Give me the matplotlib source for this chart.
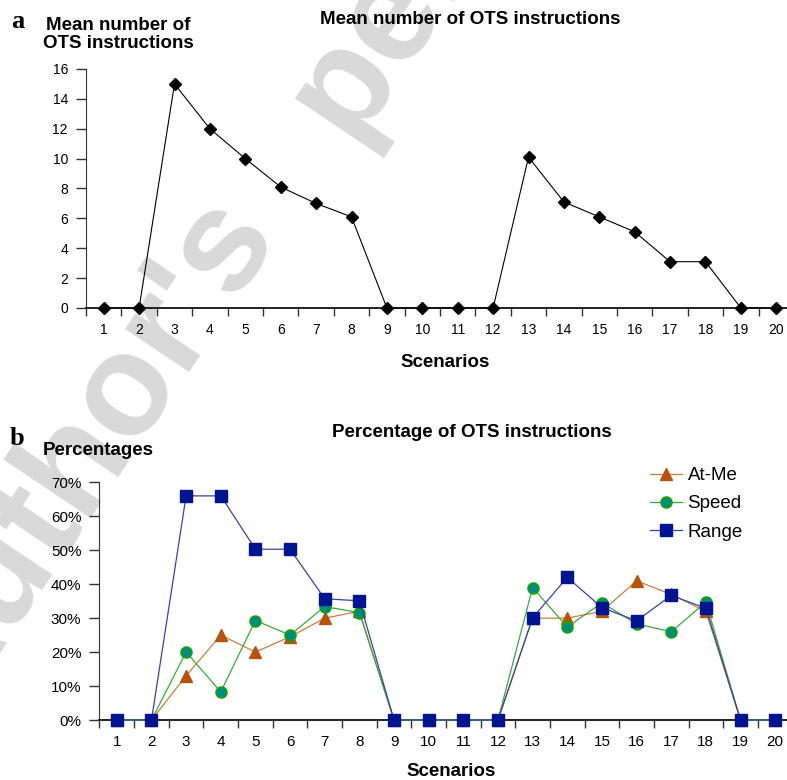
import matplotlib
matplotlib.use("Agg")
import matplotlib.pyplot as plt
from matplotlib.ticker import FixedLocator, NullFormatter

plt.rcParams["font.family"] = ["Liberation Sans", "DejaVu Sans"]

scenarios = list(range(1, 21))
ots_mean = [0, 0, 15, 12, 10, 8.1, 7, 6.1, 0, 0, 0, 0, 10.1, 7.1, 6.1, 5.1, 3.1, 3.1, 0, 0]

at_me = [0, 0, 13, 25, 20, 24.5, 30, 32, 0, 0, 0, 0, 30, 30, 32, 41, 37, 32, 0, 0]
speed = [0, 0, 20, 8.3, 29.3, 25, 33.4, 31.6, 0, 0, 0, 0, 39, 27.4, 34.5, 28.3, 26, 34.7, 0, 0]
range_pct = [0, 0, 66, 66, 50.3, 50.3, 35.7, 35.1, 0, 0, 0, 0, 30.1, 42, 33.1, 29.2, 36.7, 32.9, 0, 0]

W, H = 787, 780
fig = plt.figure(figsize=(W / 100, H / 100), dpi=100)


def fx(px):
    return px / W


def fy(py):
    return 1 - py / H


# watermark behind everything
wm = dict(fontsize=104, fontweight="bold", color="#d9d9d9", rotation=56,
          rotation_mode="anchor", ha="left", va="baseline", zorder=-1)
fig.text(fx(-50), fy(722), "Author's", **wm)
fig.text(fx(354), fy(149), "personal copy", **wm)


def style_axes(ax, tick_size, pad):
    ax.patch.set_alpha(0)
    for s in ("top", "right"):
        ax.spines[s].set_visible(False)
    ax.spines["left"].set_color("#333333")
    ax.spines["bottom"].set_color("#111111")
    ax.spines["bottom"].set_linewidth(1.3)
    ax.set_xlim(0.5, 20.5)
    ax.set_xticks(scenarios)
    ax.set_xticklabels([str(s) for s in scenarios])
    ax.xaxis.set_minor_locator(FixedLocator([s + 0.5 for s in range(0, 21)]))
    ax.xaxis.set_minor_formatter(NullFormatter())
    ax.tick_params(axis="x", which="major", length=0, labelsize=tick_size, pad=pad)
    ax.tick_params(axis="x", which="minor", length=6, width=1, color="#333333")
    ax.tick_params(axis="y", length=7, width=1, color="#333333", labelsize=tick_size, pad=6)


# --- a: mean number of OTS instructions
ax1 = fig.add_axes([fx(86), fy(308), fx(794) - fx(86), (308 - 69) / H])
style_axes(ax1, 10, 11)
ax1.plot(scenarios, ots_mean, color="black", lw=0.8, marker="D", ms=6.5,
         mfc="black", mec="black", clip_on=False, zorder=3)
ax1.set_ylim(0, 16)
ax1.set_yticks(range(0, 17, 2))

fig.text(fx(18), fy(28), "a", family="Liberation Serif", fontweight="bold",
         fontsize=19, ha="center", va="baseline")
fig.text(fx(118), fy(48), "Mean number of\nOTS instructions", fontweight="bold",
         fontsize=13.5, ha="center", va="baseline", linespacing=1.05)
fig.text(fx(470), fy(24), "Mean number of OTS instructions", fontweight="bold",
         fontsize=13.5, ha="center", va="baseline")
fig.text(fx(445), fy(367), "Scenarios", fontweight="bold", fontsize=13.5,
         ha="center", va="baseline")

# --- b: percentage of OTS instructions
ax2 = fig.add_axes([fx(99.5), fy(720), fx(792.5) - fx(99.5), (720 - 482.3) / H])
style_axes(ax2, 11, 11)
ax2.plot(scenarios, at_me, color="#d07a3c", lw=0.9, marker="^", ms=9,
         mfc="#b5520c", mec="#b5520c", clip_on=False, zorder=3, label="At-Me")
ax2.plot(scenarios, speed, color="#3aaa3a", lw=0.9, marker="o", ms=7.5,
         mfc="#008a8a", mec="#11a011", mew=1.5, clip_on=False, zorder=4, label="Speed")
ax2.plot(scenarios, range_pct, color="#3545a5", lw=0.9, marker="s", ms=8,
         mfc="#00148f", mec="#00148f", clip_on=False, zorder=5, label="Range")
ax2.set_ylim(0, 70)
ax2.set_yticks(range(0, 71, 10))
ax2.set_yticklabels([f"{v}%" for v in range(0, 71, 10)])

fig.legend(handles=ax2.get_lines(), loc="upper left",
           bbox_to_anchor=(fx(650), fy(467)), bbox_transform=fig.transFigure,
           frameon=False, borderpad=0, borderaxespad=0, fontsize=13.5,
           handlelength=1.7, handletextpad=0.3, labelspacing=0.6)

fig.text(fx(16.5), fy(445), "b", family="Liberation Serif", fontweight="bold",
         fontsize=19, ha="center", va="baseline")
fig.text(fx(98), fy(455), "Percentages", fontweight="bold", fontsize=13.5,
         ha="center", va="baseline")
fig.text(fx(472), fy(437), "Percentage of OTS instructions", fontweight="bold",
         fontsize=13.5, ha="center", va="baseline")
fig.text(fx(451), fy(776), "Scenarios", fontweight="bold", fontsize=13.5,
         ha="center", va="baseline")

fig.savefig("out.png", dpi=100)
